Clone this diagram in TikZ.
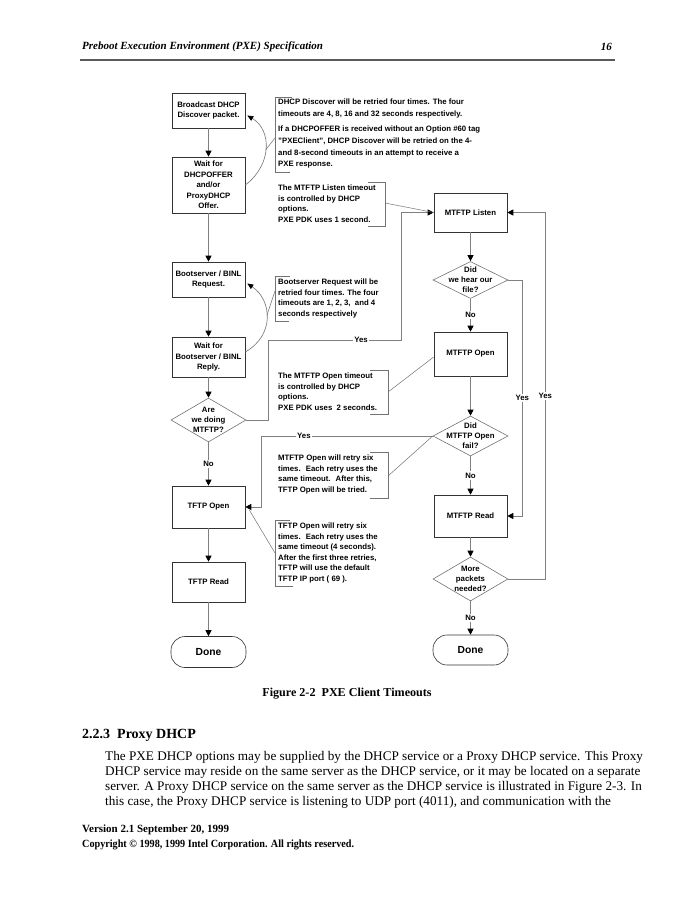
\documentclass[tikz,border=0pt]{standalone}
\usepackage{fontspec}
\setmainfont{Liberation Serif}
\setsansfont{Liberation Sans}
\usetikzlibrary{arrows.meta,shapes.geometric,calc}
\begin{document}
\begin{tikzpicture}[x=1pt,y=-1pt,
  dfont/.style={font=\sffamily\bfseries\fontsize{7.8}{10.5}\selectfont},
  box/.style={dfont, draw=black!80, line width=0.6pt, minimum width=73pt, inner sep=1pt, align=center},
  dia/.style={diamond, draw=black!55, line width=0.6pt, minimum width=75pt, minimum height=#1, inner sep=0pt},
  dtext/.style={align=center, inner sep=0pt, font=\sffamily\bfseries\fontsize{7.8}{10}\selectfont},
  term/.style={draw=black!80, line width=0.6pt, minimum width=75pt, rounded corners=14pt, inner sep=1pt, font=\sffamily\bfseries\fontsize{10.3}{12}\selectfont},
  conn/.style={draw=black!50, line width=0.8pt, -{Triangle[length=6pt,width=6pt,color=black]}},
  lbl/.style={dfont, fill=white, inner sep=1.5pt},
  note/.style={dfont, align=left, anchor=north west, inner sep=0pt},
  brk/.style={draw=black!55, line width=0.6pt},
  callout/.style={draw=black!55, line width=0.5pt},
  curv/.style={draw=black!55, line width=0.6pt, -{Triangle[length=6pt,width=5pt,color=black]}},
  body/.style={anchor=west, inner sep=0pt, font=\fontsize{13.2}{15}\selectfont},
  foot/.style={anchor=west, inner sep=0pt, font=\bfseries\fontsize{11}{13}\selectfont}
]
\useasboundingbox (0,0) rectangle (695,899);
\fill[white] (0,0) rectangle (695,899);

% header
\node[anchor=west, inner sep=0pt, font=\bfseries\itshape\fontsize{11}{13}\selectfont] (hdr) at (82,47) {Preboot Execution Environment (PXE) Specification};
\node[anchor=east, inner sep=0pt, font=\bfseries\itshape\fontsize{11}{13}\selectfont] (pg) at (612,47) {16};
\draw[black!65, line width=1.8pt] (80,60) -- (615,60);

% left column
\node[box, minimum height=35pt] (bcast) at (208.5,110.5) {Broadcast DHCP\\Discover packet.};
\node[box, minimum height=56pt] (waitoffer) at (208.5,185) {Wait for\\DHCPOFFER\\and/or\\ProxyDHCP\\Offer.};
\node[box, minimum height=35pt] (bsreq) at (208.5,279.5) {Bootserver / BINL\\Request.};
\node[box, minimum height=40pt] (bsreply) at (208.5,357) {Wait for\\Bootserver / BINL\\Reply.};
\node[dia=44pt] (mtftpq) at (208.5,420) {};
\node[dtext] at (mtftpq) {Are\\we doing\\MTFTP?};
\node[box, minimum height=42pt] (tftpopen) at (208.5,507) {TFTP Open};
\node[box, minimum height=40pt] (tftpread) at (208.5,582) {TFTP Read};
\node[term, minimum height=31pt] (done1) at (208.5,652) {Done};

% right column
\node[box, minimum height=39pt] (listen) at (470.5,212.5) {MTFTP Listen};
\node[dia=37pt] (heard) at (470.5,280) {};
\node[dtext] at (heard) {Did\\we hear our\\file?};
\node[box, minimum height=44pt] (mopen) at (470.5,354) {MTFTP Open};
\node[dia=40pt] (failq) at (470.5,436) {};
\node[dtext] at (failq) {Did\\MTFTP Open\\fail?};
\node[box, minimum height=42pt] (mread) at (470.5,516) {MTFTP Read};
\node[dia=44pt] (moreq) at (470.5,579) {};
\node[dtext] at (moreq) {More\\packets\\needed?};
\node[term, minimum height=30pt] (done2) at (470.5,650) {Done};

% left flow
\draw[conn] (bcast) -- (waitoffer);
\draw[conn] (waitoffer) -- (bsreq);
\draw[conn] (bsreq) -- (bsreply);
\draw[conn] (bsreply) -- (mtftpq.north);
\draw[conn] (mtftpq.south) -- node[lbl]{No} (tftpopen.north);
\draw[conn] (tftpopen) -- (tftpread);
\draw[conn] (tftpread) -- (done1);

% right flow
\draw[conn] (listen) -- (heard.north);
\draw[conn] (heard.south) -- node[lbl]{No} (mopen.north);
\draw[conn] (mopen) -- (failq.north);
\draw[conn] (failq.south) -- node[lbl]{No} (mread.north);
\draw[conn] (mread) -- (moreq.north);
\draw[conn] (moreq.south) -- node[lbl]{No} (done2.north);

% loops
\draw[conn] (heard.east) -- ++(14,0) |- node[lbl,pos=0.25]{Yes} (mread.east);
\draw[conn] (moreq.east) -- ++(37,0) |- node[lbl,pos=0.25]{Yes} (listen.east);
\draw[conn] (mtftpq.east) -- (268,420) -- (268,340) -- node[lbl,pos=0.7]{Yes} (401,340) -- (401,212.5) -- (listen.west);
\draw[conn] (failq.west) -- node[lbl,pos=0.75]{Yes} (261,436) -- (261,507) -- (tftpopen.east);

% curved retry arrows
\draw[curv] (waitoffer.east) .. controls (272,165) and (272,130) .. ($(bcast.east)+(2,5)$);
\draw[curv] ($(bsreply.east)+(0,-5)$) .. controls (275,335) and (272,300) .. ($(bsreq.east)+(2,4)$);

% annotations
\node[note, font=\sffamily\bfseries\fontsize{7.8}{11.8}\selectfont] (n1) at (278,99) {DHCP Discover will be retried four times. The four\\timeouts are 4, 8, 16 and 32 seconds respectively.\\[3pt]If a DHCPOFFER is received without an Option \#60 tag\\"PXEClient", DHCP Discover will be retried on the 4-\\and 8-second timeouts in an attempt to receive a\\PXE response.};
\draw[brk] (292,97) -- (275,97) -- (275,172) -- (290,172);
\draw[callout] (275,138) -- (265.5,150);

\node[note] (n2) at (278,185) {The MTFTP Listen timeout\\is controlled by DHCP\\options.\\PXE PDK uses 1 second.};
\draw[brk] (368,182) -- (385,182) -- (385,226) -- (368,226);
\draw[callout] (385,203) -- (listen.west);

\node[note] (n3) at (278,279) {Bootserver Request will be\\retried four times. The four\\timeouts are 1, 2, 3,~ and 4\\seconds respectively};
\draw[brk] (290,276) -- (275,276) -- (275,321) -- (289,321);
\draw[callout] (275,291) -- (267,315);

\node[note] (n4) at (278,373) {The MTFTP Open timeout\\is controlled by DHCP\\options.\\PXE PDK uses~ 2 seconds.};
\draw[brk] (370,370) -- (388,370) -- (388,414) -- (370,414);
\draw[callout] (388,392) -- ($(mopen.west)+(0,3)$);

\node[note] (n5) at (278,455) {MTFTP Open will retry six\\times.~ Each retry uses the\\same timeout.~ After this,\\TFTP Open will be tried.};
\draw[brk] (370,452) -- (388,452) -- (388,498) -- (370,498);
\draw[callout] (388,476) -- (failq.west);

\node[note] (n6) at (278,523) {TFTP Open will retry six\\times.~ Each retry uses the\\same timeout (4 seconds).\\After the first three retries,\\TFTP will use the default\\TFTP IP port ( 69 ).};
\draw[brk] (290,520) -- (275,520) -- (275,586) -- (293,586);
\draw[callout] (275,553) -- ($(tftpopen.east)+(4,3)$);

% caption and text
\node[inner sep=0pt, font=\bfseries\fontsize{12.1}{14}\selectfont] (cap) at (347,694) {Figure 2-2~ PXE Client Timeouts};
\node[anchor=west, inner sep=0pt, font=\bfseries\fontsize{14}{16}\selectfont] (sec) at (82,735) {2.2.3~ Proxy DHCP};
\node[body] (l1) at (105,757) {The PXE DHCP options may be supplied by the DHCP service or a Proxy DHCP service. This Proxy};
\node[body] (l2) at (105,772.2) {DHCP service may reside on the same server as the DHCP service, or it may be located on a separate};
\node[body] (l3) at (105,787.4) {server. A Proxy DHCP service on the same server as the DHCP service is illustrated in Figure 2-3. In};
\node[body] (l4) at (105,802.6) {this case, the Proxy DHCP service is listening to UDP port (4011), and communication with the};
\node[foot] (f1) at (82,830) {Version 2.1 September 20, 1999};
\node[foot] (f2) at (82,845) {\scalebox{0.925}[1]{Copyright © 1998, 1999 Intel Corporation. All rights reserved.}};
\end{tikzpicture}
\end{document}
